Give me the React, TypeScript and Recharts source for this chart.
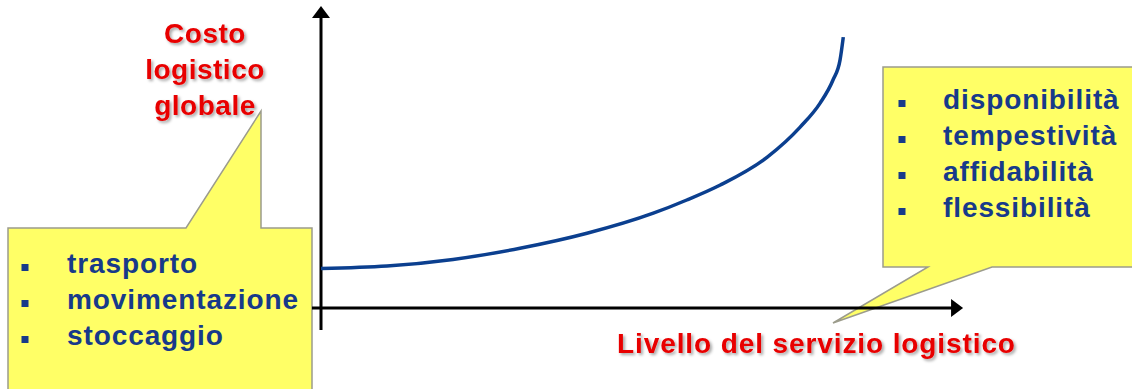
import { LineChart, Line, XAxis, YAxis, ReferenceLine } from 'recharts';

// livello del servizio (asse x, 0-100) e costo logistico globale (asse y, 0-100)
const livello = [0, 10.25, 20.5, 30.9, 41.3, 51.6, 56.8, 62, 69.3, 74.4, 77.5, 79.5, 80.6, 81.1];
const costo = [13.2, 14, 16.2, 19.9, 24.9, 31.6, 36, 41, 50.3, 60.3, 68.3, 76, 82.7, 90.3];

const titoloCosto = ['Costo', 'logistico', 'globale'];
const titoloLivello = 'Livello del servizio logistico';
const vociCosto = ['trasporto', 'movimentazione', 'stoccaggio'];
const vociServizio = ['disponibilità', 'tempestività', 'affidabilità', 'flessibilità'];

const W = 1132;
const H = 389;
const FONT = '"Liberation Sans", Arial, sans-serif';
const RED = '#e80000';
const BLUE = '#173a8a';
const YELLOW = '#ffff66';
const BORDER = '#9c9c8c';

const data = livello.map((x, i) => ({ x, y: costo[i] }));

// linea con punta di freccia, usata come shape delle ReferenceLine
function Arrow(p: any) {
  const { x1, y1, x2, y2 } = p;
  const dx = x2 - x1;
  const dy = y2 - y1;
  const len = Math.hypot(dx, dy) || 1;
  const ux = dx / len;
  const uy = dy / len;
  const head = 12;
  const half = 9;
  const bx = x2 - ux * head;
  const by = y2 - uy * head;
  return (
    <g>
      <line x1={x1} y1={y1} x2={bx + ux} y2={by + uy} stroke="#000" strokeWidth={3} />
      <polygon
        points={`${x2},${y2} ${bx - uy * half},${by + ux * half} ${bx + uy * half},${by - ux * half}`}
        fill="#000"
      />
    </g>
  );
}

function Voci({ items, x, bx, y0 }: { items: string[]; x: number; bx: number; y0: number }) {
  return (
    <g>
      {items.map((t, i) => {
        const base = y0 + i * 36;
        return (
          <g key={t}>
            <rect x={bx - 3.5} y={base - 9} width={7} height={7} fill={BLUE} />
            <text x={x} y={base} fill={BLUE} fontFamily={FONT} fontWeight="bold" fontSize={28} letterSpacing={0.9}>
              {t}
            </text>
          </g>
        );
      })}
    </g>
  );
}

function Fumetti() {
  return (
    <svg width={W} height={H} style={{ position: 'absolute', left: 0, top: 0 }}>
      <defs>
        <filter id="ombra" x="-10%" y="-20%" width="130%" height="150%">
          <feDropShadow dx={2} dy={2} stdDeviation={1.5} floodColor="#000" floodOpacity={0.35} />
        </filter>
      </defs>
      <path
        d="M8,228 H186 L261,111 V228 H312 V400 H8 Z"
        fill={YELLOW}
        stroke={BORDER}
        strokeWidth={1.5}
      />
      <path
        d="M883,67 H1140 V267 H992 L833,323 L928,267 H883 Z"
        fill={YELLOW}
        stroke={BORDER}
        strokeWidth={1.5}
      />
      <Voci items={vociCosto} x={67} bx={25} y0={273} />
      <Voci items={vociServizio} x={943} bx={902} y0={109} />
      <g filter="url(#ombra)" fill={RED} fontFamily={FONT} fontWeight="bold" fontSize={28}>
        {titoloCosto.map((t, i) => (
          <text key={t} x={205} y={43 + i * 36} textAnchor="middle" letterSpacing={0.5}>
            {t}
          </text>
        ))}
        <text x={617} y={353} letterSpacing={0.9}>
          {titoloLivello}
        </text>
      </g>
    </svg>
  );
}

export default function App() {
  return (
    <div style={{ position: 'absolute', left: 0, top: 0, width: W, height: H, background: '#fff' }}>
      <Fumetti />
      <div style={{ position: 'absolute', left: 0, top: 0 }}>
        <LineChart width={W} height={H} data={data} margin={{ top: 8, right: 167, bottom: 81, left: 321 }}>
          <XAxis type="number" dataKey="x" domain={[0, 100]} hide />
          <YAxis type="number" domain={[0, 100]} hide />
          <ReferenceLine
            segment={[{ x: -1.4, y: 0 }, { x: 99.7, y: 0 }]}
            ifOverflow="visible"
            shape={Arrow}
          />
          <ReferenceLine
            segment={[{ x: 0, y: -7.3 }, { x: 0, y: 100.7 }]}
            ifOverflow="visible"
            shape={Arrow}
          />
          <Line
            type="monotone"
            dataKey="y"
            stroke="#0b3f8f"
            strokeWidth={3.5}
            dot={false}
            activeDot={false}
            isAnimationActive={false}
          />
        </LineChart>
      </div>
    </div>
  );
}
